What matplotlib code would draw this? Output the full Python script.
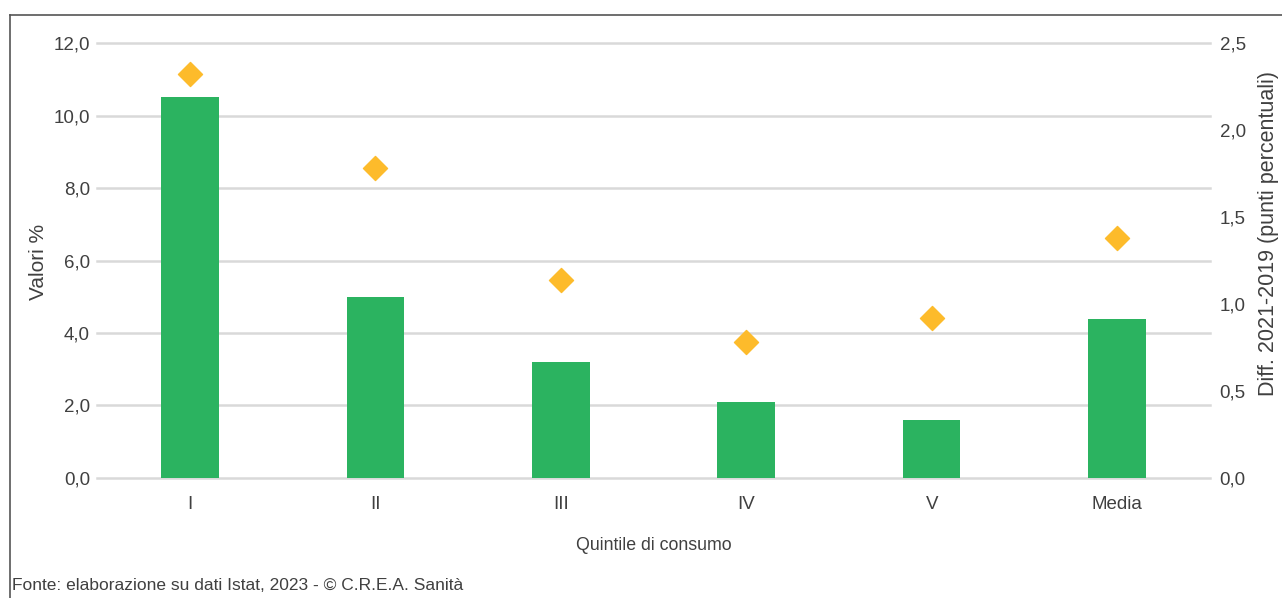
import matplotlib.pyplot as plt
from matplotlib.lines import Line2D
from matplotlib.ticker import FuncFormatter
import numpy as np

plt.rcParams['font.family'] = ['Liberation Sans', 'DejaVu Sans']

# Data
categories = ['I', 'II', 'III', 'IV', 'V', 'Media']
valori = [10.5, 5.0, 3.2, 2.1, 1.6, 4.4]
diff_2021_2019 = [2.32, 1.78, 1.14, 0.78, 0.92, 1.38]

green = '#2bb360'
yellow = '#fdbb2b'
txt = '#404040'
fs = 13.5

fig = plt.figure(figsize=(12.82, 5.98), dpi=100)
ax = fig.add_axes([0.0757, 0.2007, 0.8681, 0.7273])
ax2 = ax.twinx()

x = np.arange(len(categories))
ax.bar(x, valori, width=0.31, color=green, zorder=3)
ax2.scatter(x, diff_2021_2019, marker='D', s=150, color=yellow, zorder=4)

ax.set_xlim(-0.5, len(categories) - 0.5)
ax.set_ylim(0, 12)
ax.set_yticks(np.arange(0, 12.1, 2))
ax2.set_ylim(0, 2.5)
ax2.set_yticks(np.arange(0, 2.51, 0.5))

comma1 = FuncFormatter(lambda v, p: f'{v:.1f}'.replace('.', ','))
ax.yaxis.set_major_formatter(comma1)
ax2.yaxis.set_major_formatter(comma1)

ax.set_xticks(x)
ax.set_xticklabels(categories)
ax.grid(axis='y', color='#d9d9d9', lw=1.8, zorder=0)
for gl in ax.get_ygridlines():
    gl.set_clip_on(False)
ax.set_axisbelow(True)

for a in (ax, ax2):
    for s in a.spines.values():
        s.set_visible(False)
    a.tick_params(length=0, labelsize=fs, colors=txt)
ax.tick_params(axis='y', pad=5)
ax2.tick_params(axis='y', pad=7)
ax.tick_params(axis='x', pad=13)

ax.set_xlabel('Quintile di consumo', fontsize=12.8, color=txt, labelpad=17)

# axis titles placed by hand
ax.text(-0.053, 0.497, 'Valori %', transform=ax.transAxes, rotation=90,
        ha='center', va='center', fontsize=15, color=txt)
ax.text(1.053, 0.563, 'Diff. 2021-2019 (punti percentuali)', transform=ax.transAxes,
        rotation=90, ha='center', va='center', fontsize=15.5, color=txt)

# outer frame (left and top)
fig.add_artist(Line2D([10 / 1282, 10 / 1282], [0, 1 - 15 / 598], color='#555555', lw=1.2))
fig.add_artist(Line2D([10 / 1282, 1], [1 - 15 / 598, 1 - 15 / 598], color='#555555', lw=1.2))

fig.text(12 / 1282, 1 - 585 / 598, 'Fonte: elaborazione su dati Istat, 2023 - © C.R.E.A. Sanità',
         fontsize=12.5, color=txt, va='center', ha='left')

fig.savefig('out.png', dpi=100)
